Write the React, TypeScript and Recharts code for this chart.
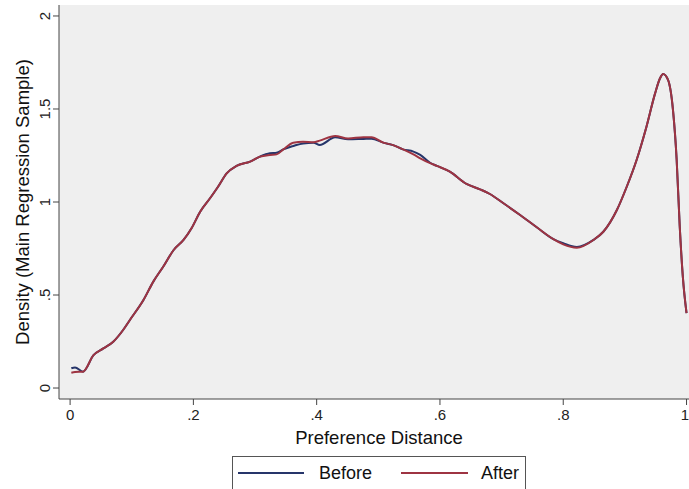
import { LineChart, Line, XAxis, YAxis, CartesianGrid } from 'recharts';

// Kernel density of preference distance, before / after
const distance = [
  0.002, 0.008, 0.021, 0.038, 0.054, 0.07, 0.086, 0.097, 0.119, 0.135, 0.151, 0.168,
  0.184, 0.197, 0.211, 0.227, 0.24, 0.254, 0.27, 0.292, 0.308, 0.324, 0.335, 0.346,
  0.362, 0.378, 0.395, 0.405, 0.43, 0.451, 0.476, 0.489, 0.508, 0.524, 0.54, 0.557,
  0.568, 0.584, 0.595, 0.616, 0.643, 0.665, 0.681, 0.703, 0.73, 0.757, 0.784, 0.8,
  0.822, 0.849, 0.865, 0.887, 0.903, 0.919, 0.935, 0.949, 0.957, 0.962, 0.97, 0.978,
  0.984, 0.989, 0.994, 1.0,
];
const before = [
  0.106, 0.111, 0.088, 0.177, 0.213, 0.249, 0.312, 0.366, 0.473, 0.572, 0.652, 0.742,
  0.796, 0.859, 0.948, 1.02, 1.082, 1.154, 1.194, 1.217, 1.244, 1.262, 1.265, 1.283,
  1.301, 1.315, 1.318, 1.306, 1.348, 1.337, 1.339, 1.34, 1.319, 1.306, 1.283, 1.271,
  1.253, 1.211, 1.194, 1.163, 1.097, 1.068, 1.043, 0.993, 0.93, 0.864, 0.8, 0.778,
  0.758, 0.796, 0.84, 0.957, 1.082, 1.226, 1.405, 1.584, 1.665, 1.688, 1.656, 1.495,
  1.226, 0.867, 0.598, 0.402,
];
const after = [
  0.082, 0.086, 0.088, 0.177, 0.213, 0.249, 0.312, 0.366, 0.473, 0.572, 0.652, 0.742,
  0.796, 0.859, 0.948, 1.02, 1.082, 1.154, 1.194, 1.217, 1.244, 1.253, 1.256, 1.283,
  1.319, 1.324, 1.321, 1.33, 1.355, 1.342, 1.348, 1.348, 1.319, 1.306, 1.283, 1.256,
  1.235, 1.209, 1.194, 1.163, 1.097, 1.068, 1.043, 0.993, 0.93, 0.864, 0.8, 0.772,
  0.754, 0.796, 0.84, 0.957, 1.082, 1.226, 1.405, 1.584, 1.665, 1.688, 1.656, 1.495,
  1.226, 0.867, 0.598, 0.402,
];
const xTicks = [0, 0.2, 0.4, 0.6, 0.8, 1];
const yTicks = [0, 0.5, 1, 1.5, 2];

const NAVY = '#26356a';
const MAROON = '#9e3442';
const AXIS = '#444';
const FONT = 'Arial, "Liberation Sans", sans-serif';

const data = distance.map((x, i) => ({ x, before: before[i], after: after[i] }));

// Stata style: drop the leading zero
const fmt = (v: number) => (v === 0 ? '0' : String(v).replace(/^0\./, '.'));

function YTick({ x, y, payload }: any) {
  const tx = x - 1;
  return (
    <text
      x={tx}
      y={y}
      transform={`rotate(-90 ${tx} ${y})`}
      textAnchor="middle"
      fontSize={15}
      fontFamily={FONT}
      fill="#222"
    >
      {fmt(payload.value)}
    </text>
  );
}

function XTick({ x, y, payload }: any) {
  return (
    <text x={x} y={y + 13} textAnchor="middle" fontSize={15} fontFamily={FONT} fill="#222">
      {fmt(payload.value)}
    </text>
  );
}

function YTitle({ viewBox }: any) {
  const cx = 29;
  const cy = viewBox.y + viewBox.height / 2;
  return (
    <text
      x={cx}
      y={cy}
      transform={`rotate(-90 ${cx} ${cy})`}
      textAnchor="middle"
      fontSize={18.5}
      fontFamily={FONT}
      fill="#111"
    >
      Density (Main Regression Sample)
    </text>
  );
}

function XTitle({ viewBox }: any) {
  return (
    <text
      x={viewBox.x + viewBox.width / 2 + 5}
      y={444}
      textAnchor="middle"
      fontSize={18.5}
      fontFamily={FONT}
      fill="#111"
    >
      Preference Distance
    </text>
  );
}

export default function App() {
  return (
    <div style={{ position: 'absolute', left: 0, top: 0, width: 689, height: 489, background: '#fff', overflow: 'hidden' }}>
      <LineChart width={689} height={489} data={data} margin={{ top: 5, right: 0, bottom: 0, left: 0 }}>
        <CartesianGrid horizontal={false} vertical={false} fill="#efefef" stroke="none" />
        <XAxis
          type="number"
          dataKey="x"
          domain={[-0.018, 1.004]}
          ticks={xTicks}
          allowDataOverflow
          height={90}
          stroke={AXIS}
          tickSize={6}
          tick={<XTick />}
          label={<XTitle />}
        />
        <YAxis
          type="number"
          domain={[-0.059, 2.059]}
          ticks={yTicks}
          allowDataOverflow
          width={59}
          stroke={AXIS}
          tickSize={6}
          tick={<YTick />}
          label={<YTitle />}
        />
        <Line type="monotone" dataKey="before" stroke={NAVY} strokeWidth={2} dot={false} isAnimationActive={false} />
        <Line type="monotone" dataKey="after" stroke={MAROON} strokeWidth={2} dot={false} isAnimationActive={false} />
      </LineChart>
      <div
        style={{
          position: 'absolute',
          left: 232,
          top: 456,
          width: 294,
          height: 40,
          border: '1px solid #555',
          boxSizing: 'border-box',
          background: '#fff',
          fontFamily: FONT,
          fontSize: 18,
          color: '#111',
        }}
      >
        <div style={{ position: 'absolute', left: 5, top: 15, width: 66, height: 2, background: NAVY }} />
        <div style={{ position: 'absolute', left: 86, top: 5, lineHeight: '22px' }}>Before</div>
        <div style={{ position: 'absolute', left: 168, top: 15, width: 67, height: 2, background: MAROON }} />
        <div style={{ position: 'absolute', left: 248, top: 5, lineHeight: '22px' }}>After</div>
      </div>
    </div>
  );
}
